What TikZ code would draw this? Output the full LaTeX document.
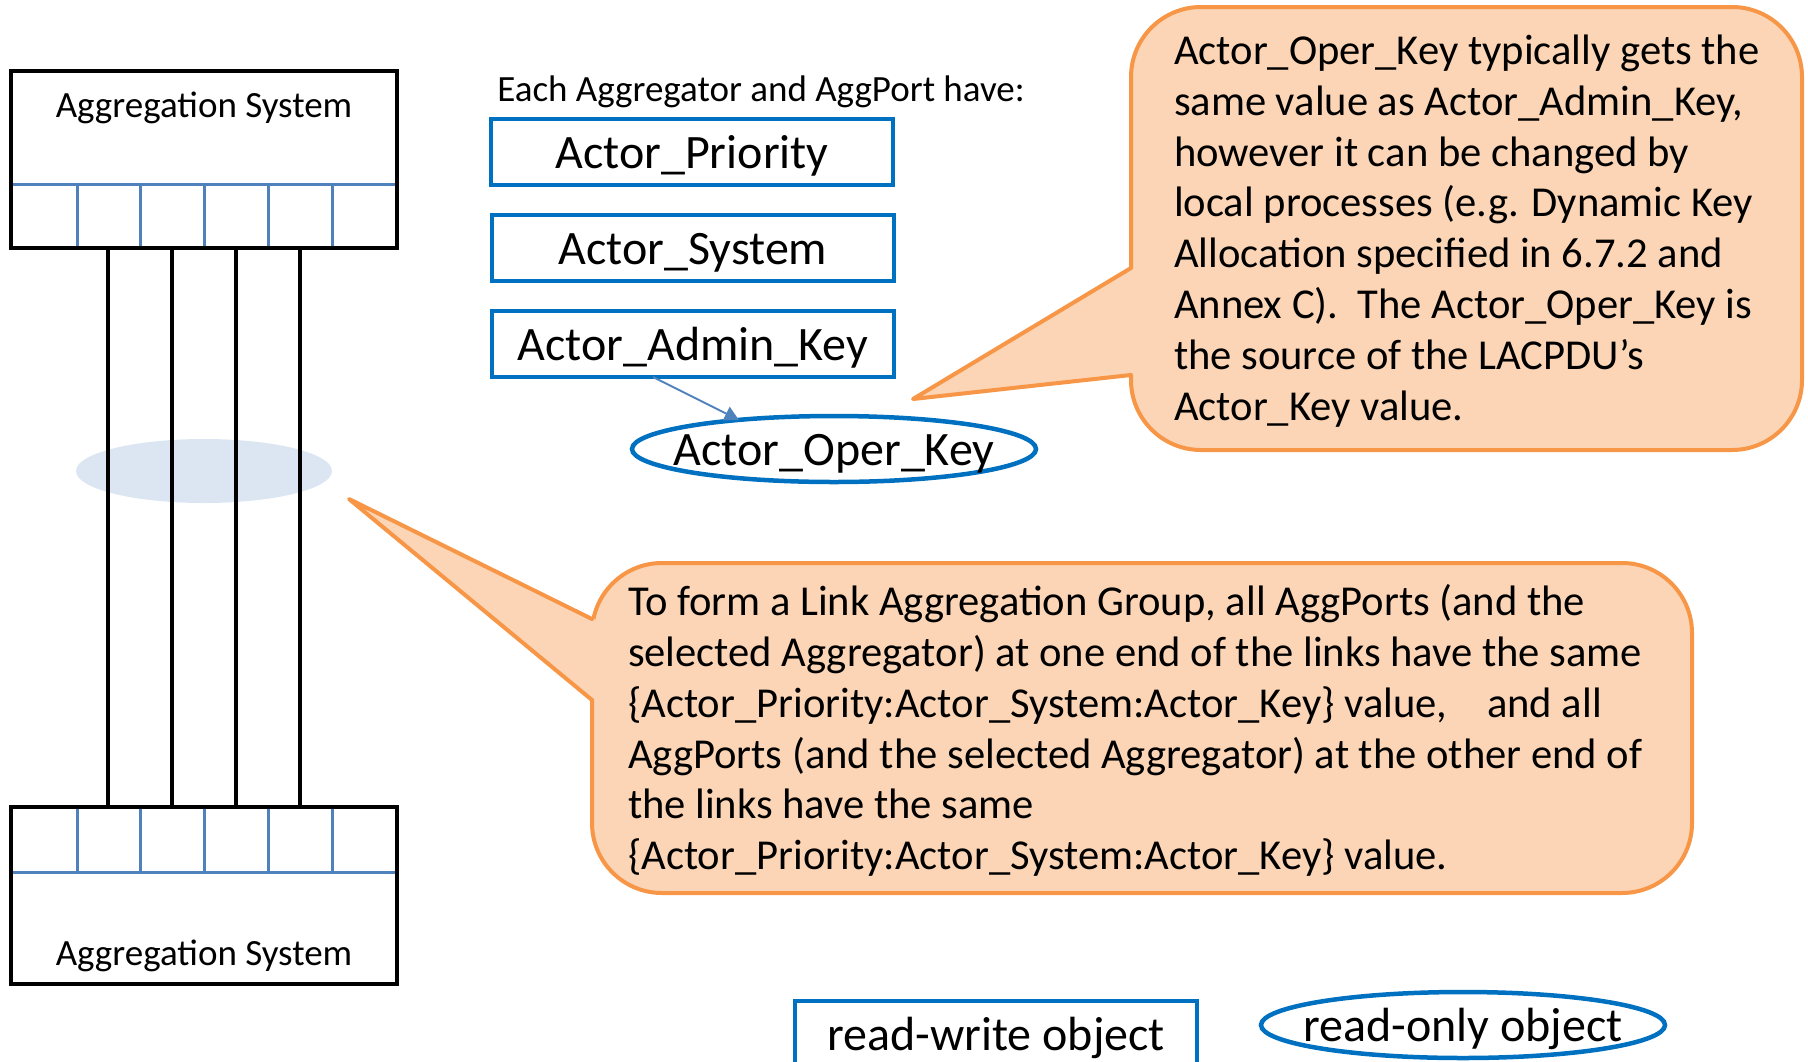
\documentclass[tikz,border=0pt]{standalone}
\usepackage{fontspec}
\setmainfont{Carlito}
\usetikzlibrary{shapes.geometric,arrows.meta,positioning,calc}
\definecolor{objblue}{HTML}{0070C0}
\definecolor{portblue}{HTML}{4F81BD}
\definecolor{groupblue}{HTML}{DCE6F2}
\definecolor{notefill}{HTML}{FBD5B5}
\definecolor{noteline}{HTML}{F79646}
% label of a managed object, centred on its frame
\newcommand{\objtext}[1]{\makebox[0pt]{\smash{\raisebox{-16.5pt}{#1}}}}

\begin{document}
\begin{tikzpicture}[x=1pt, y=-1pt,
    every node/.style={inner sep=0pt, outer sep=0pt},
    sysbox/.style={draw=black, line width=4.5pt, minimum width=386pt, minimum height=177pt},
    syslabel/.style={font=\fontsize{37}{44}\selectfont},
    rwobj/.style={draw=objblue, line width=4.5pt, minimum width=402pt, minimum height=66pt, font=\fontsize{48}{58}\selectfont},
    roobj/.style={ellipse, draw=objblue, line width=4.5pt, minimum width=404pt, minimum height=66pt, font=\fontsize{48}{58}\selectfont},
    note/.style={draw=noteline, fill=notefill, line width=4pt, rounded corners=70pt},
    notetext/.style={anchor=west, align=left, font=\fontsize{42.6}{50.8}\selectfont},
    pointer/.style={draw=noteline, line width=4pt, line join=round, line cap=round},
    port/.style={draw=portblue, line width=3pt},
    link/.style={draw=black, line width=3.5pt},
    keyarrow/.style={draw=portblue, line width=1.8pt, -{Triangle[length=14pt,width=15pt]}}
]
    \useasboundingbox (0,0) rectangle (1808,1061);

    % Highlighted group of links
    \node[ellipse, fill=groupblue, minimum width=256pt, minimum height=64pt] (group) at (204,471) {};

    % Port rows of both systems
    \draw[port] (13,184) -- (395,184);
    \draw[port] (13,872) -- (395,872);
    \foreach \x in {77,140,204,268,332} {
        \draw[port] (\x,184) -- (\x,248);
        \draw[port] (\x,807) -- (\x,872);
    }

    % Aggregation Systems
    \node[sysbox] (topsys) at (204,159.5) {};
    \node[sysbox] (botsys) at (204,895.5) {};
    \node[syslabel] (toplabel) at (204,107.5) {Aggregation System};
    \node[syslabel] (botlabel) at (204,955.5) {Aggregation System};

    % Links
    \foreach \x in {108,172,236,300}
        \draw[link] (topsys.south -| \x,0) -- (botsys.north -| \x,0);

    % Per-port objects
    \node[syslabel] (header) at (761,92) {Each Aggregator and AggPort have:};
    \node[rwobj] (priority) at (692,152) {\objtext{Actor\_Priority}};
    \node[rwobj] (system) at (693,248) {\objtext{Actor\_System}};
    \node[rwobj] (admin) at (693,344) {\objtext{Actor\_Admin\_Key}};
    \node[roobj] (oper) at (834,449) {\objtext{Actor\_Oper\_Key}};
    \draw[keyarrow] ([xshift=-40pt]admin.south) -- (oper.163);

    % Note on Actor_Oper_Key
    \node[note, minimum width=671pt, minimum height=443pt] (opernote) at (1466.5,228.5) {};
    \coordinate (opertip) at (913,399);
    \fill[notefill] ($(opernote.west |- 0,268)+(3,0)$) -- (opertip) -- ($(opernote.west |- 0,375)+(3,0)$) -- cycle;
    \draw[pointer] (opernote.west |- 0,268) -- (opertip) -- (opernote.west |- 0,375);
    \node[notetext] (opertext) at (1174,231)
        {Actor\_Oper\_Key typically gets the\\
         same value as Actor\_Admin\_Key,\\
         however it can be changed by\\
         local processes (e.g. Dynamic Key\\
         Allocation specified in 6.7.2 and\\
         Annex C).\ \ The Actor\_Oper\_Key is\\
         the source of the LACPDU’s\\
         Actor\_Key value.};

    % Note on the Link Aggregation Group
    \node[note, minimum width=1100pt, minimum height=330pt] (groupnote) at (1142,728) {};
    \coordinate (grouptip) at (349,499);
    \fill[notefill] ($(groupnote.west |- 0,619)+(3,0)$) -- (grouptip) -- ($(groupnote.west |- 0,700)+(3,0)$) -- cycle;
    \draw[pointer] (groupnote.west |- 0,619) -- (grouptip) -- (groupnote.west |- 0,700);
    \node[notetext] (grouptext) at (628,730.5)
        {To form a Link Aggregation Group, all AggPorts (and the\\
         selected Aggregator) at one end of the links have the same\\
         \{Actor\_Priority:Actor\_System:Actor\_Key\} value,\hspace{30pt} and all\\
         AggPorts (and the selected Aggregator) at the other end of\\
         the links have the same\\
         \{Actor\_Priority:Actor\_System:Actor\_Key\} value.};

    % Legend
    \node[rwobj] (rwlegend) at (996,1034) {\objtext{read-write object}};
    \node[roobj] (rolegend) at (1463,1025) {\objtext{read-only object}};
\end{tikzpicture}
\end{document}
